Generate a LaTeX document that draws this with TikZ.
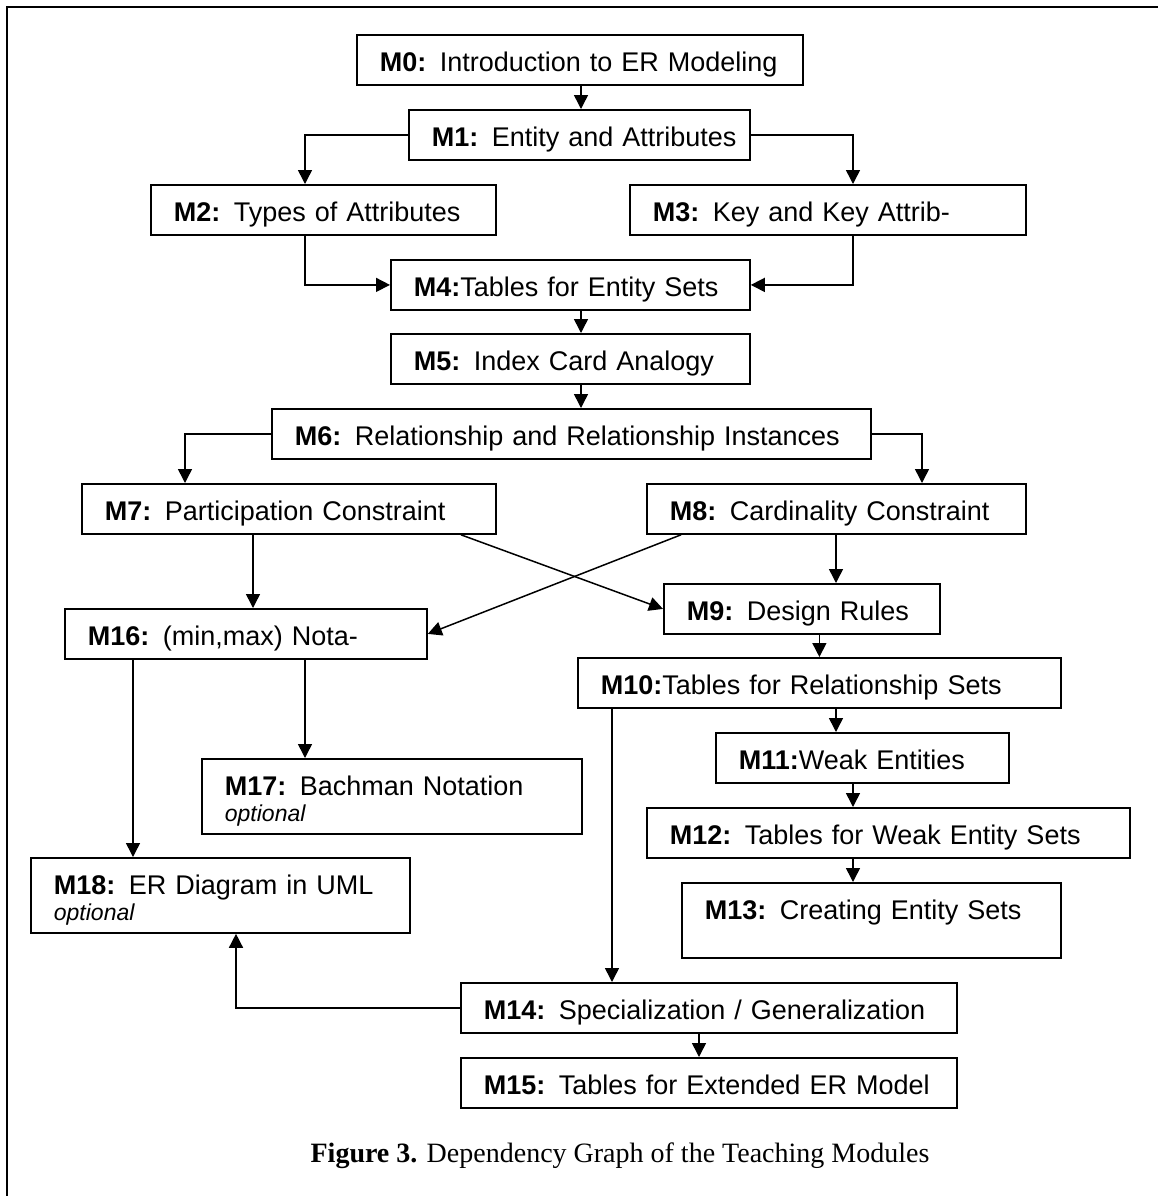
\documentclass[tikz,border=0pt]{standalone}
\usepackage{fontspec}
\setmainfont{Liberation Sans}
\newfontfamily\capfont{Liberation Serif}
\usetikzlibrary{arrows.meta}
\newcommand\modfont{\fontsize{13.5pt}{13pt}\selectfont}
\newcommand\optfont{\fontsize{11.5pt}{13pt}\selectfont\itshape}
\newcommand\modline[2]{\mbox{\textbf{#1:}#2}}
\tikzset{
  modbox/.style={draw, line width=0.9pt, rectangle, anchor=north west,
    inner xsep=11.5pt, inner ysep=0pt, text width=#1, align=left,
    text height=18.5pt, text depth=6.5pt, font=\modfont},
  tallbox/.style={modbox=#1, text depth=19pt},
  arr/.style={-{Triangle[length=7pt,width=7pt]}, line width=0.75pt}
}
\begin{document}
\begin{tikzpicture}[x=0.5pt, y=-0.5pt, line join=miter]
  \fill[white] (0,0) rectangle (1158,1196);
  \useasboundingbox (0,0) rectangle (1158,1196);
  \draw[line width=1pt] (7,1196) -- (7,7) -- (1158,7);
  \path
    (581,0) coordinate (trunk)
    (305,0) coordinate (left1)
    (853,0) coordinate (right1)
    (185,0) coordinate (left2)
    (922,0) coordinate (right2)
    (253,0) coordinate (down7)
    (461,0) coordinate (cross7)
    (681,0) coordinate (cross8)
    (836,0) coordinate (mid8)
    (612,0) coordinate (down10)
    (236,0) coordinate (back14)
    (699,0) coordinate (down14)
    (133,0) coordinate (down16)
    ;
  % modules
  \node[modbox=200pt] (m0) at (356,34) {\modline{M0}{ Introduction to ER Modeling}};
  \node[modbox=147.5pt] (m1) at (408,109) {\modline{M1}{ Entity and Attributes}};
  \node[modbox=149.5pt] (m2) at (150,184) {\modline{M2}{ Types of Attributes}};
  \node[modbox=175pt] (m3) at (629,184) {\modline{M3}{ Key and Key Attrib-}};
  \node[modbox=156.5pt] (m4) at (390,259) {\modline{M4}{Tables for Entity Sets}};
  \node[modbox=156.5pt] (m5) at (390,333) {\modline{M5}{ Index Card Analogy}};
  \node[modbox=276.5pt] (m6) at (271,408) {\modline{M6}{ Relationship and Relationship Instances}};
  \node[modbox=184pt] (m7) at (81,483) {\modline{M7}{ Participation Constraint}};
  \node[modbox=166.5pt] (m8) at (646,483) {\modline{M8}{ Cardinality Constraint}};
  \node[modbox=115pt] (m9) at (663,583) {\modline{M9}{ Design Rules}};
  \node[modbox=218.5pt] (m10) at (577,657) {\modline{M10}{Tables for Relationship Sets}};
  \node[modbox=123.5pt] (m11) at (715,732) {\modline{M11}{Weak Entities}};
  \node[modbox=218.5pt] (m12) at (646,807) {\modline{M12}{ Tables for Weak Entity Sets}};
  \node[tallbox=166.5pt] (m13) at (681,882) {\modline{M13}{ Creating Entity Sets}};
  \node[modbox=225pt] (m14) at (460,982) {\modline{M14}{ Specialization / Generalization}};
  \node[modbox=225pt] (m15) at (460,1057) {\modline{M15}{ Tables for Extended ER Model}};
  \node[modbox=158pt] (m16) at (64,608) {\modline{M16}{ (min,max) Nota-}};
  \node[tallbox=167pt] (m17) at (201,758) {\modline{M17}{ Bachman Notation}\\{\optfont optional}};
  \node[tallbox=166.5pt] (m18) at (30,857) {\modline{M18}{ ER Diagram in UML}\\{\optfont optional}};
  \node[anchor=base, font=\capfont\fontsize{14pt}{16pt}\selectfont] (cap) at (620,1162)
    {\textbf{Figure 3.} Dependency Graph of the Teaching Modules};
  % dependencies
  \foreach \a/\b/\x in {m0/m1/trunk, m4/m5/trunk, m5/m6/trunk, m7/m16/down7,
      m8/m9/mid8, m9/m10/m10, m10/m11/mid8, m10/m14/down10, m11/m12/right1,
      m12/m13/right1, m14/m15/down14, m16/m18/down16, m16/m17/left1}
    \draw[arr] (\a.south -| \x) -- (\b.north -| \x);
  \draw[arr] (m1.west) -| (m2.north -| left1);
  \draw[arr] (m1.east) -| (m3.north -| right1);
  \draw[arr] (m2.south -| left1) |- (m4.west);
  \draw[arr] (m3.south -| right1) |- (m4.east);
  \draw[arr] (m6.west) -| (m7.north -| left2);
  \draw[arr] (m6.east) -| (m8.north -| right2);
  \draw[arr] (m7.south -| cross7) -- (m9.west);
  \draw[arr] (m8.south -| cross8) -- (m16.east);
  \draw[arr] (m14.west) -| (m18.south -| back14);
\end{tikzpicture}
\end{document}
